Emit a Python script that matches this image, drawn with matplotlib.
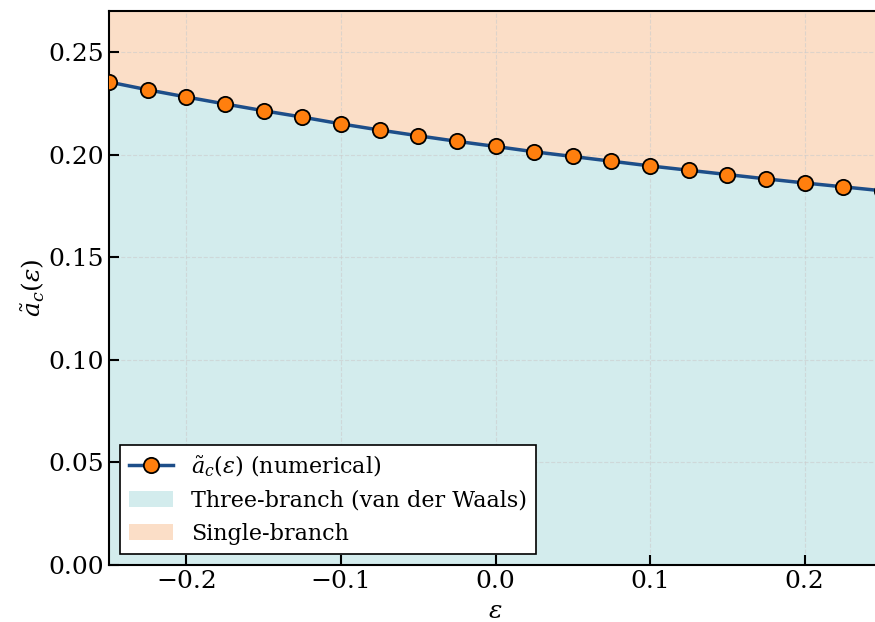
import matplotlib
matplotlib.use("Agg")
import matplotlib.pyplot as plt
import numpy as np

eps = [-0.25, -0.225, -0.2, -0.175, -0.15, -0.125, -0.1, -0.075, -0.05, -0.025,
       0.0, 0.025, 0.05, 0.075, 0.1, 0.125, 0.15, 0.175, 0.2, 0.225, 0.25]
a_c = [0.2354, 0.2316, 0.2281, 0.2247, 0.2214, 0.2183, 0.2150, 0.2120, 0.2092, 0.2065,
       0.2040, 0.2014, 0.1991, 0.1968, 0.1945, 0.1924, 0.1903, 0.1882, 0.1862, 0.1843, 0.1824]

plt.rcParams['font.family'] = 'DejaVu Serif'
plt.rcParams['mathtext.fontset'] = 'dejavuserif'

fig = plt.figure(figsize=(8.75, 6.22), dpi=100)
ax = fig.add_axes([0.1246, 0.0916, 0.8834, 0.8907])

x = np.array(eps)
y = np.array(a_c)
ymax = 0.27
ax.plot(x, y, '-o', color='#1d4e89', linewidth=2.5, markersize=11,
        markerfacecolor='#ff7f0e', markeredgecolor='black', markeredgewidth=1.3,
        label=r'$\tilde{a}_c(\varepsilon)$ (numerical)', zorder=5)
ax.fill_between(x, 0, y, color='#a8dadc', alpha=0.5, linewidth=0,
                label='Three-branch (van der Waals)')
ax.fill_between(x, y, ymax, color='#f4a261', alpha=0.35, linewidth=0,
                label='Single-branch')

ax.set_xlim(-0.25, 0.25)
ax.set_ylim(0, ymax)
ax.set_xticks([-0.2, -0.1, 0.0, 0.1, 0.2])
ax.set_yticks([0.0, 0.05, 0.10, 0.15, 0.20, 0.25])
ax.grid(True, linestyle='--', color='#cccccc', alpha=0.6, linewidth=0.8)
ax.tick_params(direction='in', length=7, width=1.5, labelsize=18)
for s in ax.spines.values():
    s.set_linewidth(1.5)
ax.set_xlabel(r'$\varepsilon$', fontsize=18, labelpad=5)
ax.set_ylabel(r'$\tilde{a}_c(\varepsilon)$', fontsize=18, labelpad=1)
leg = ax.legend(loc='lower left', fontsize=16, fancybox=False, edgecolor='black',
                framealpha=1.0, borderaxespad=0.5)
leg.get_frame().set_linewidth(1.2)

fig.savefig('out.png', dpi=100)
